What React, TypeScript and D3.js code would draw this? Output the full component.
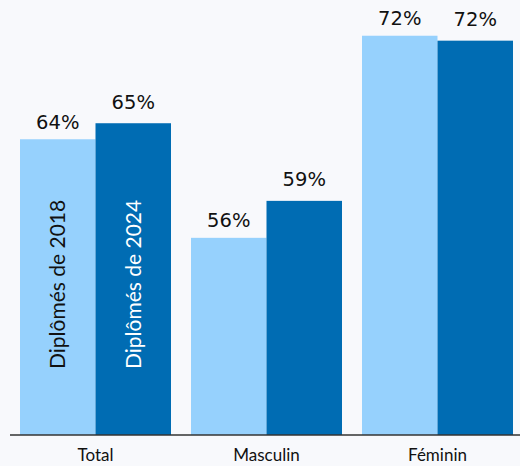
import React from "react";
import * as d3 from "d3";

const categories = ["Total", "Masculin", "Féminin"];
const seriesNames = ["Diplômés de 2018", "Diplômés de 2024"];
const values2018 = [64, 56, 72.4];
const values2024 = [65.3, 59, 72];
const labels2018 = ["64%", "56%", "72%"];
const labels2024 = ["65%", "59%", "72%"];

const W = 520;
const H = 466;
const baseY = 435;
const colors = ["#96d1fd", "#006cb3"];
const textColors = ["#111", "#fff"];
const labelGap = [10.5, 14.5];
const font = "Lato, 'Noto Sans', sans-serif";
const valueFont = "'DejaVu Sans', sans-serif";

export default function App() {
  const x = d3
    .scaleBand<string>()
    .domain(categories)
    .range([10, 523])
    .paddingInner(20 / 171)
    .paddingOuter(10 / 171);
  const sub = d3
    .scaleBand<number>()
    .domain([0, 1])
    .range([0, x.bandwidth()]);
  const y = d3.scaleLinear().domain([40, 75.3]).range([baseY, 0]);
  const series = [values2018, values2024];
  const labels = [labels2018, labels2024];

  return (
    <div style={{ position: "fixed", left: 0, top: 0, width: W, height: H, background: "#f8f9fc" }}>
      <svg width={W} height={H} style={{ display: "block" }}>
        <rect x={0} y={0} width={W} height={H} fill="#f8f9fc" />
        {categories.map((c, i) => (
          <g key={c} transform={`translate(${x(c)},0)`}>
            {series.map((s, k) => {
              const bx = sub(k)!;
              const bw = sub.bandwidth();
              const top = y(s[i]);
              return (
                <g key={k}>
                  <rect x={bx} y={top} width={bw} height={baseY - top} fill={colors[k]} />
                  <text
                    x={bx + bw / 2}
                    y={top - labelGap[k]}
                    textAnchor="middle"
                    fontFamily={valueFont}
                    fontSize={19.5}
                    fill="#111"
                  >
                    {labels[k][i]}
                  </text>
                  {i === 0 && (
                    <text
                      transform={`translate(${bx + bw / 2 + 7.5},${369}) rotate(-90)`}
                      fontFamily={font}
                      fontSize={21}
                      fill={textColors[k]}
                    >
                      {seriesNames[k]}
                    </text>
                  )}
                </g>
              );
            })}
            <text
              x={x.bandwidth() / 2}
              y={461}
              textAnchor="middle"
              fontFamily={font}
              fontSize={17}
              fill="#111"
            >
              {c}
            </text>
          </g>
        ))}
        <line x1={10} x2={W} y1={baseY} y2={baseY} stroke="#333" strokeWidth={1.5} />
      </svg>
    </div>
  );
}
